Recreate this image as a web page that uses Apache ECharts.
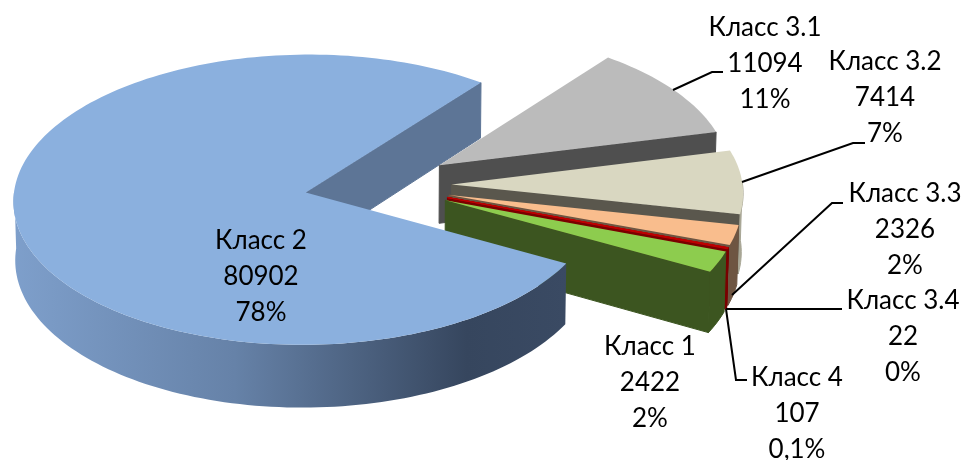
<!DOCTYPE html>
<html><head><meta charset="utf-8">
<style>html,body{margin:0;padding:0;background:#fff}#c{width:963px;height:460px}</style>
<script src="https://cdn.jsdelivr.net/npm/echarts@6/dist/echarts.min.js"></script>
</head><body><div id="c"></div>
<script>
const categories = ['Класс 1','Класс 2','Класс 3.1','Класс 3.2','Класс 3.3','Класс 3.4','Класс 4'];
const values = [2422,80902,11094,7414,2326,22,107];
const percentLabels = ['2%','78%','11%','7%','2%','0%','0,1%'];

// appearance of the slices
const topColors = ['#8DCC4E','#8BB0DE','#BBBBBB','#D9D7C1','#F9BD8D','#C00000','#C00000'];
const wallColors = ['#3C5520','#5D7596','#4F4F4F','#5A574D','#6E5542','#7A0000','#7A0000'];
const rimColors = ['#3C5520',null,'#4F4F4F','#A8A695','#6E5542','#7A0000','#7A0000'];
const strokeWidths = [0,0,0,0,0,1,1];
const paintOrder = [60,0,10,20,30,40,50];

// layout of the labels and their leaders
const labelPos = [[650,346],[261,240],[765,27],[885,61],[905,193],[903,300],[797,377]];
const leaders = [null,null,
  [[673,90],[712,72],[723,72]],
  [[742,182],[853,143],[865,143]],
  [[732,295],[832,203],[843,203]],
  [[726,309],[842,309]],
  [[726,309],[736,380],[747,380]]];

// projection of the pie
const P = {cx:378, cy:185, rx:291, ry:144, persp:0.05, explode:0.253, depth:58.5, depthGrow:0.07, taper:0.005, startDeg:20.3};
const total = values.reduce((a,b)=>a+b,0);
const rad = d => d*Math.PI/180;
function project(X,Y,bottom){
  const w = 1-P.persp*Y;
  let x = P.rx*X/w, y = P.ry*Y/w;
  if(bottom){ y += P.depth*(1+P.depthGrow*Y); x *= 1-P.taper; }
  return [P.cx+x, P.cy+y];
}
function renderItem(params, api){
  const i = params.dataIndex;
  let before = 0;
  for(let k=0;k<i;k++) before += values[k];
  const val = api.value(0);
  const a0 = P.startDeg + before/total*360;
  const a1 = a0 + val/total*360;
  const mid = rad((a0+a1)/2);
  const ex = P.explode*Math.cos(mid), ey = P.explode*Math.sin(mid);
  const n = Math.max(2,Math.ceil((a1-a0)/1.5));
  const arc = [];
  const front = [];
  for(let k=0;k<=n;k++){
    const t=rad(a0+(a1-a0)*k/n);
    const p=[ex+Math.cos(t),ey+Math.sin(t)];
    arc.push(p);
    if(Math.sin(t)>=-0.02) front.push(p);
  }
  const topArc = arc.map(p=>project(p[0],p[1],false));
  const rimTop = front.map(p=>project(p[0],p[1],false));
  const rimBot = front.map(p=>project(p[0],p[1],true));
  const endBot = project(arc[n][0],arc[n][1],true);
  const apexT = project(ex,ey,false), apexB = project(ex,ey,true);
  const z = paintOrder[i];
  const kids = [];
  // wall on the clockwise radial edge
  kids.push({type:'polygon',z2:z,shape:{points:[apexT,topArc[n],endBot,apexB]},
    style:{fill:wallColors[i],stroke:wallColors[i],lineWidth:1}});
  // rim wall, only where it faces the viewer
  if(rimTop.length>1){
    let rimFill = rimColors[i], rimStroke = rimColors[i];
    if(i===1){
      rimStroke = null;
      rimFill = new echarts.graphic.LinearGradient(0,0,1,0,[
        {offset:0,color:'#7E9FCB'},{offset:0.4,color:'#6682A8'},{offset:0.82,color:'#36465E'},{offset:1,color:'#3A4A63'}]);
    }
    kids.push({type:'polygon',z2:i===1?70:z+1,shape:{points:rimTop.concat(rimBot.slice().reverse())},
      style:{fill:rimFill,stroke:rimStroke,lineWidth:rimStroke?1:0}});
  }
  // top face
  kids.push({type:'polygon',z2:i===1?72:z+2,shape:{points:[apexT].concat(topArc)},
    style:{fill:topColors[i],stroke:strokeWidths[i]?topColors[i]:null,lineWidth:strokeWidths[i]}});
  // leader
  if(leaders[i]) kids.push({type:'polyline',z2:90,shape:{points:leaders[i]},
    style:{fill:null,stroke:'#000',lineWidth:2}});
  // label
  kids.push({type:'text',z2:95,style:{
    x:labelPos[i][0],y:labelPos[i][1],
    text:categories[i]+'\n'+val+'\n'+percentLabels[i],
    font:'26px Lato, "Open Sans", "Noto Sans", sans-serif',
    fill:'#000',align:'center',verticalAlign:'top',lineHeight:36,
    textAlign:'center',textVerticalAlign:'top'},
    y:-17});
  return {type:'group',children:kids};
}
const chart = echarts.init(document.getElementById('c'),null,{renderer:'canvas'});
chart.setOption({
  animation:false,
  backgroundColor:'#fff',
  series:[{type:'custom',coordinateSystem:'none',renderItem:renderItem,silent:true,clip:false,
    data:categories.map((c,i)=>({name:c,value:[values[i]]}))}]
});
</script></body></html>
